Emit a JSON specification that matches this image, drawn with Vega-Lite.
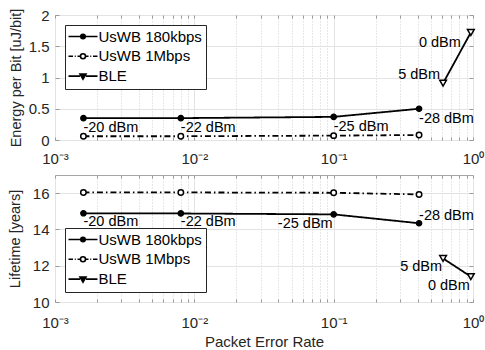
{
  "$schema": "https://vega.github.io/schema/vega-lite/v6.json",
  "padding": {"left": 6, "top": 7, "right": 0, "bottom": 2},
  "config": {
    "font": "Liberation Sans",
    "view": {"stroke": "#a6a6a6", "strokeWidth": 1},
    "axis": {"domain": false, "labelFontSize": 15, "labelColor": "#262626", "titleFontSize": 14.5, "titleFontWeight": "normal", "titleColor": "#262626", "tickColor": "#9a9a9a", "tickSize": -4, "gridColor": "#e3e3e3", "labelFont": "Liberation Sans", "titleFont": "Liberation Sans"},
    "legend": {"labelFontSize": 15, "labelColor": "#000000", "labelFont": "Liberation Sans", "strokeColor": "#262626", "fillColor": "#ffffff", "padding": 4, "rowPadding": 3.8, "symbolSize": 100, "symbolStrokeColor": "#000000", "symbolStrokeWidth": 1.6, "symbolOpacity": 1, "symbolOffset": 6.5, "labelOffset": 8, "cornerRadius": 0},
    "text": {"fontSize": 14.5, "font": "Liberation Sans", "color": "#000000"}
  },
  "datasets": {
    "d": [
      {"panel": "energy", "series": "UsWB 180kbps", "per": 0.0016, "value": 0.35, "label": "-20 dBm"},
      {"panel": "energy", "series": "UsWB 180kbps", "per": 0.008, "value": 0.35, "label": "-22 dBm"},
      {"panel": "energy", "series": "UsWB 180kbps", "per": 0.1, "value": 0.37, "label": "-25 dBm"},
      {"panel": "energy", "series": "UsWB 180kbps", "per": 0.41, "value": 0.5, "label": "-28 dBm"},
      {"panel": "energy", "series": "UsWB 1Mbps", "per": 0.0016, "value": 0.06, "label": null},
      {"panel": "energy", "series": "UsWB 1Mbps", "per": 0.008, "value": 0.06, "label": null},
      {"panel": "energy", "series": "UsWB 1Mbps", "per": 0.1, "value": 0.07, "label": null},
      {"panel": "energy", "series": "UsWB 1Mbps", "per": 0.41, "value": 0.08, "label": null},
      {"panel": "energy", "series": "BLE", "per": 0.61, "value": 0.91, "label": "5 dBm"},
      {"panel": "energy", "series": "BLE", "per": 0.965, "value": 1.72, "label": "0 dBm"},
      {"panel": "life", "series": "UsWB 180kbps", "per": 0.0016, "value": 14.89, "label": "-20 dBm"},
      {"panel": "life", "series": "UsWB 180kbps", "per": 0.008, "value": 14.88, "label": "-22 dBm"},
      {"panel": "life", "series": "UsWB 180kbps", "per": 0.1, "value": 14.83, "label": "-25 dBm"},
      {"panel": "life", "series": "UsWB 180kbps", "per": 0.41, "value": 14.34, "label": "-28 dBm"},
      {"panel": "life", "series": "UsWB 1Mbps", "per": 0.0016, "value": 16.04, "label": null},
      {"panel": "life", "series": "UsWB 1Mbps", "per": 0.008, "value": 16.04, "label": null},
      {"panel": "life", "series": "UsWB 1Mbps", "per": 0.1, "value": 16.02, "label": null},
      {"panel": "life", "series": "UsWB 1Mbps", "per": 0.41, "value": 15.93, "label": null},
      {"panel": "life", "series": "BLE", "per": 0.61, "value": 12.4, "label": "5 dBm"},
      {"panel": "life", "series": "BLE", "per": 0.965, "value": 11.4, "label": "0 dBm"}
    ]
  },
  "data": {"name": "d"},
  "spacing": 7,
  "resolve": {"scale": {"y": "independent"}, "legend": {"shape": "independent"}},
  "vconcat": [
    {
      "width": 418,
      "height": 125,
      "transform": [{"filter": "datum.panel == 'energy'"}],
      "encoding": {
        "x": {"field": "per", "type": "quantitative", "scale": {"type": "log", "domain": [0.001, 1], "nice": false}, "axis": null},
        "y": {"field": "value", "type": "quantitative", "scale": {"domain": [0, 2], "nice": false, "zero": false}, "axis": null}
      },
      "layer": [
        {
          "mark": {"type": "line", "color": "#000000", "strokeWidth": 1.8},
          "encoding": {
            "x": {"field": "per", "type": "quantitative", "scale": {"type": "log", "domain": [0.001, 1], "nice": false},
              "axis": {"orient": "bottom", "title": null, "values": [0.001,0.002,0.003,0.004,0.005,0.006,0.007,0.008,0.009,0.01,0.02,0.03,0.04,0.05,0.06,0.07,0.08,0.09,0.1,0.2,0.3,0.4,0.5,0.6,0.7,0.8,0.9,1],
                "labelExpr": "datum.value == 0.001 ? '10⁻³' : datum.value == 0.01 ? '10⁻²' : datum.value == 0.1 ? '10⁻¹' : datum.value == 1 ? '10⁰' : ''",
                "labelOverlap": false, "labelFlush": false, "labelPadding": 14, "tickSize": -3, "grid": true,
                "gridDash": {"condition": {"test": "datum.value == 0.001 || datum.value == 0.01 || datum.value == 0.1 || datum.value == 1", "value": []}, "value": [1, 2]},
                "gridColor": {"condition": {"test": "datum.value == 0.001 || datum.value == 0.01 || datum.value == 0.1 || datum.value == 1", "value": "#e3e3e3"}, "value": "#cfcfcf"}}},
            "y": {"field": "value", "type": "quantitative", "scale": {"domain": [0, 2], "nice": false, "zero": false},
              "axis": {"orient": "left", "title": "Energy per Bit [uJ/bit]", "values": [0, 0.5, 1, 1.5, 2], "format": "~g", "grid": true, "labelPadding": 10, "titlePadding": 5}},
            "strokeDash": {"field": "series", "type": "nominal", "scale": {"domain": ["UsWB 180kbps", "UsWB 1Mbps", "BLE"], "range": [[1, 0], [6, 3, 1.5, 3], [1, 0]]}, "legend": null}
          }
        },
        {
          "transform": [{"filter": "datum.series == 'UsWB 180kbps'"}],
          "mark": {"type": "point", "shape": "circle", "filled": true, "fill": "#000000", "stroke": "#000000", "strokeWidth": 1.2, "size": 30, "opacity": 1}
        },
        {
          "transform": [{"filter": "datum.series == 'UsWB 1Mbps'"}],
          "mark": {"type": "point", "shape": "circle", "filled": false, "fill": "#ffffff", "stroke": "#000000", "strokeWidth": 1.5, "size": 30, "opacity": 1}
        },
        {
          "transform": [{"filter": "datum.series == 'BLE'"}],
          "mark": {"type": "point", "shape": "triangle-down", "filled": false, "fill": "#ffffff", "stroke": "#000000", "strokeWidth": 1.5, "size": 45, "opacity": 1}
        },
        {
          "transform": [{"filter": "datum.series == 'legend only'"}],
          "mark": {"type": "point", "filled": false, "stroke": "#000000", "strokeWidth": 1.6, "opacity": 1},
          "encoding": {
            "shape": {"field": "series", "type": "nominal", "scale": {"domain": ["UsWB 180kbps", "UsWB 1Mbps", "BLE"], "range": ["M-2.9,0H-0.45M0.45,0H2.9M0.45,0A0.45,0.45,0,1,1,-0.45,0A0.45,0.45,0,1,1,0.45,0M0.17,0A0.17,0.17,0,1,1,-0.17,0A0.17,0.17,0,1,1,0.17,0", "M-2.9,0H-2.0M-1.65,0H-1.45M-1.1,0H-0.5M0.5,0H1.1M1.45,0H1.65M2.0,0H2.9M0.5,0A0.5,0.5,0,1,1,-0.5,0A0.5,0.5,0,1,1,0.5,0", "M-2.9,0H-0.6M0.6,0H2.9M-0.6,-0.4H0.6L0,0.6ZM-0.25,-0.2H0.25L0,0.25Z"]},
              "legend": {"title": null, "orient": "top-left", "offset": 10}}
          }
        },
        {
          "transform": [{"filter": "datum.series == 'UsWB 180kbps'"}],
          "mark": {"type": "text", "align": "left", "baseline": "middle", "dy": 10},
          "encoding": {
            "text": {"field": "label"},
            "x": {"field": "per", "type": "quantitative", "scale": {"type": "log", "domain": [0.001, 1], "nice": false},
              "axis": {"orient": "top", "title": null, "labels": false, "grid": false, "tickSize": -3, "values": [0.001,0.002,0.003,0.004,0.005,0.006,0.007,0.008,0.009,0.01,0.02,0.03,0.04,0.05,0.06,0.07,0.08,0.09,0.1,0.2,0.3,0.4,0.5,0.6,0.7,0.8,0.9,1]}},
            "y": {"field": "value", "type": "quantitative", "scale": {"domain": [0, 2], "nice": false, "zero": false},
              "axis": {"orient": "right", "title": null, "labels": false, "grid": false, "values": [0, 0.5, 1, 1.5, 2]}}
          }
        },
        {
          "transform": [{"filter": "datum.label == '0 dBm'"}],
          "mark": {"type": "text", "align": "right", "baseline": "middle", "dx": -10, "dy": 10},
          "encoding": {"text": {"field": "label"}}
        },
        {
          "transform": [{"filter": "datum.label == '5 dBm'"}],
          "mark": {"type": "text", "align": "right", "baseline": "middle", "dx": -3, "dy": -8},
          "encoding": {"text": {"field": "label"}}
        }
      ]
    },
    {
      "width": 418,
      "height": 127,
      "transform": [{"filter": "datum.panel == 'life'"}],
      "encoding": {
        "x": {"field": "per", "type": "quantitative", "scale": {"type": "log", "domain": [0.001, 1], "nice": false}, "axis": null},
        "y": {"field": "value", "type": "quantitative", "scale": {"domain": [10, 17], "nice": false, "zero": false}, "axis": null}
      },
      "layer": [
        {
          "mark": {"type": "line", "color": "#000000", "strokeWidth": 1.8},
          "encoding": {
            "x": {"field": "per", "type": "quantitative", "scale": {"type": "log", "domain": [0.001, 1], "nice": false},
              "axis": {"orient": "bottom", "title": "Packet Error Rate", "titleFontSize": 15, "titlePadding": 4, "values": [0.001,0.002,0.003,0.004,0.005,0.006,0.007,0.008,0.009,0.01,0.02,0.03,0.04,0.05,0.06,0.07,0.08,0.09,0.1,0.2,0.3,0.4,0.5,0.6,0.7,0.8,0.9,1],
                "labelExpr": "datum.value == 0.001 ? '10⁻³' : datum.value == 0.01 ? '10⁻²' : datum.value == 0.1 ? '10⁻¹' : datum.value == 1 ? '10⁰' : ''",
                "labelOverlap": false, "labelFlush": false, "labelPadding": 16, "tickSize": -3, "grid": true,
                "gridDash": {"condition": {"test": "datum.value == 0.001 || datum.value == 0.01 || datum.value == 0.1 || datum.value == 1", "value": []}, "value": [1, 2]},
                "gridColor": {"condition": {"test": "datum.value == 0.001 || datum.value == 0.01 || datum.value == 0.1 || datum.value == 1", "value": "#e3e3e3"}, "value": "#cfcfcf"}}},
            "y": {"field": "value", "type": "quantitative", "scale": {"domain": [10, 17], "nice": false, "zero": false},
              "axis": {"orient": "left", "title": "Lifetime [years]", "values": [10, 12, 14, 16], "grid": true, "labelPadding": 10, "titlePadding": 10}},
            "strokeDash": {"field": "series", "type": "nominal", "scale": {"domain": ["UsWB 180kbps", "UsWB 1Mbps", "BLE"], "range": [[1, 0], [6, 3, 1.5, 3], [1, 0]]}, "legend": null}
          }
        },
        {
          "transform": [{"filter": "datum.series == 'UsWB 180kbps'"}],
          "mark": {"type": "point", "shape": "circle", "filled": true, "fill": "#000000", "stroke": "#000000", "strokeWidth": 1.2, "size": 30, "opacity": 1}
        },
        {
          "transform": [{"filter": "datum.series == 'UsWB 1Mbps'"}],
          "mark": {"type": "point", "shape": "circle", "filled": false, "fill": "#ffffff", "stroke": "#000000", "strokeWidth": 1.5, "size": 30, "opacity": 1}
        },
        {
          "transform": [{"filter": "datum.series == 'BLE'"}],
          "mark": {"type": "point", "shape": "triangle-down", "filled": false, "fill": "#ffffff", "stroke": "#000000", "strokeWidth": 1.5, "size": 45, "opacity": 1}
        },
        {
          "transform": [{"filter": "datum.series == 'legend only'"}],
          "mark": {"type": "point", "filled": false, "stroke": "#000000", "strokeWidth": 1.6, "opacity": 1},
          "encoding": {
            "shape": {"field": "series", "type": "nominal", "scale": {"domain": ["UsWB 180kbps", "UsWB 1Mbps", "BLE"], "range": ["M-2.9,0H-0.45M0.45,0H2.9M0.45,0A0.45,0.45,0,1,1,-0.45,0A0.45,0.45,0,1,1,0.45,0M0.17,0A0.17,0.17,0,1,1,-0.17,0A0.17,0.17,0,1,1,0.17,0", "M-2.9,0H-2.0M-1.65,0H-1.45M-1.1,0H-0.5M0.5,0H1.1M1.45,0H1.65M2.0,0H2.9M0.5,0A0.5,0.5,0,1,1,-0.5,0A0.5,0.5,0,1,1,0.5,0", "M-2.9,0H-0.6M0.6,0H2.9M-0.6,-0.4H0.6L0,0.6ZM-0.25,-0.2H0.25L0,0.25Z"]},
              "legend": {"title": null, "orient": "bottom-left", "offset": 10}}
          }
        },
        {
          "transform": [{"filter": "datum.label == '-20 dBm' || datum.label == '-22 dBm'"}],
          "mark": {"type": "text", "align": "left", "baseline": "middle", "dy": 9},
          "encoding": {
            "text": {"field": "label"},
            "x": {"field": "per", "type": "quantitative", "scale": {"type": "log", "domain": [0.001, 1], "nice": false},
              "axis": {"orient": "top", "title": null, "labels": false, "grid": false, "tickSize": -3, "values": [0.001,0.002,0.003,0.004,0.005,0.006,0.007,0.008,0.009,0.01,0.02,0.03,0.04,0.05,0.06,0.07,0.08,0.09,0.1,0.2,0.3,0.4,0.5,0.6,0.7,0.8,0.9,1]}},
            "y": {"field": "value", "type": "quantitative", "scale": {"domain": [10, 17], "nice": false, "zero": false},
              "axis": {"orient": "right", "title": null, "labels": false, "grid": false, "values": [10, 12, 14, 16]}}
          }
        },
        {
          "transform": [{"filter": "datum.label == '-25 dBm'"}],
          "mark": {"type": "text", "align": "right", "baseline": "middle", "dx": -1, "dy": 10},
          "encoding": {"text": {"field": "label"}}
        },
        {
          "transform": [{"filter": "datum.label == '-28 dBm'"}],
          "mark": {"type": "text", "align": "left", "baseline": "middle", "dy": -7},
          "encoding": {"text": {"field": "label"}}
        },
        {
          "transform": [{"filter": "datum.series == 'BLE'"}],
          "mark": {"type": "text", "align": "right", "baseline": "middle", "dx": -1, "dy": 9},
          "encoding": {"text": {"field": "label"}}
        }
      ]
    }
  ]
}
